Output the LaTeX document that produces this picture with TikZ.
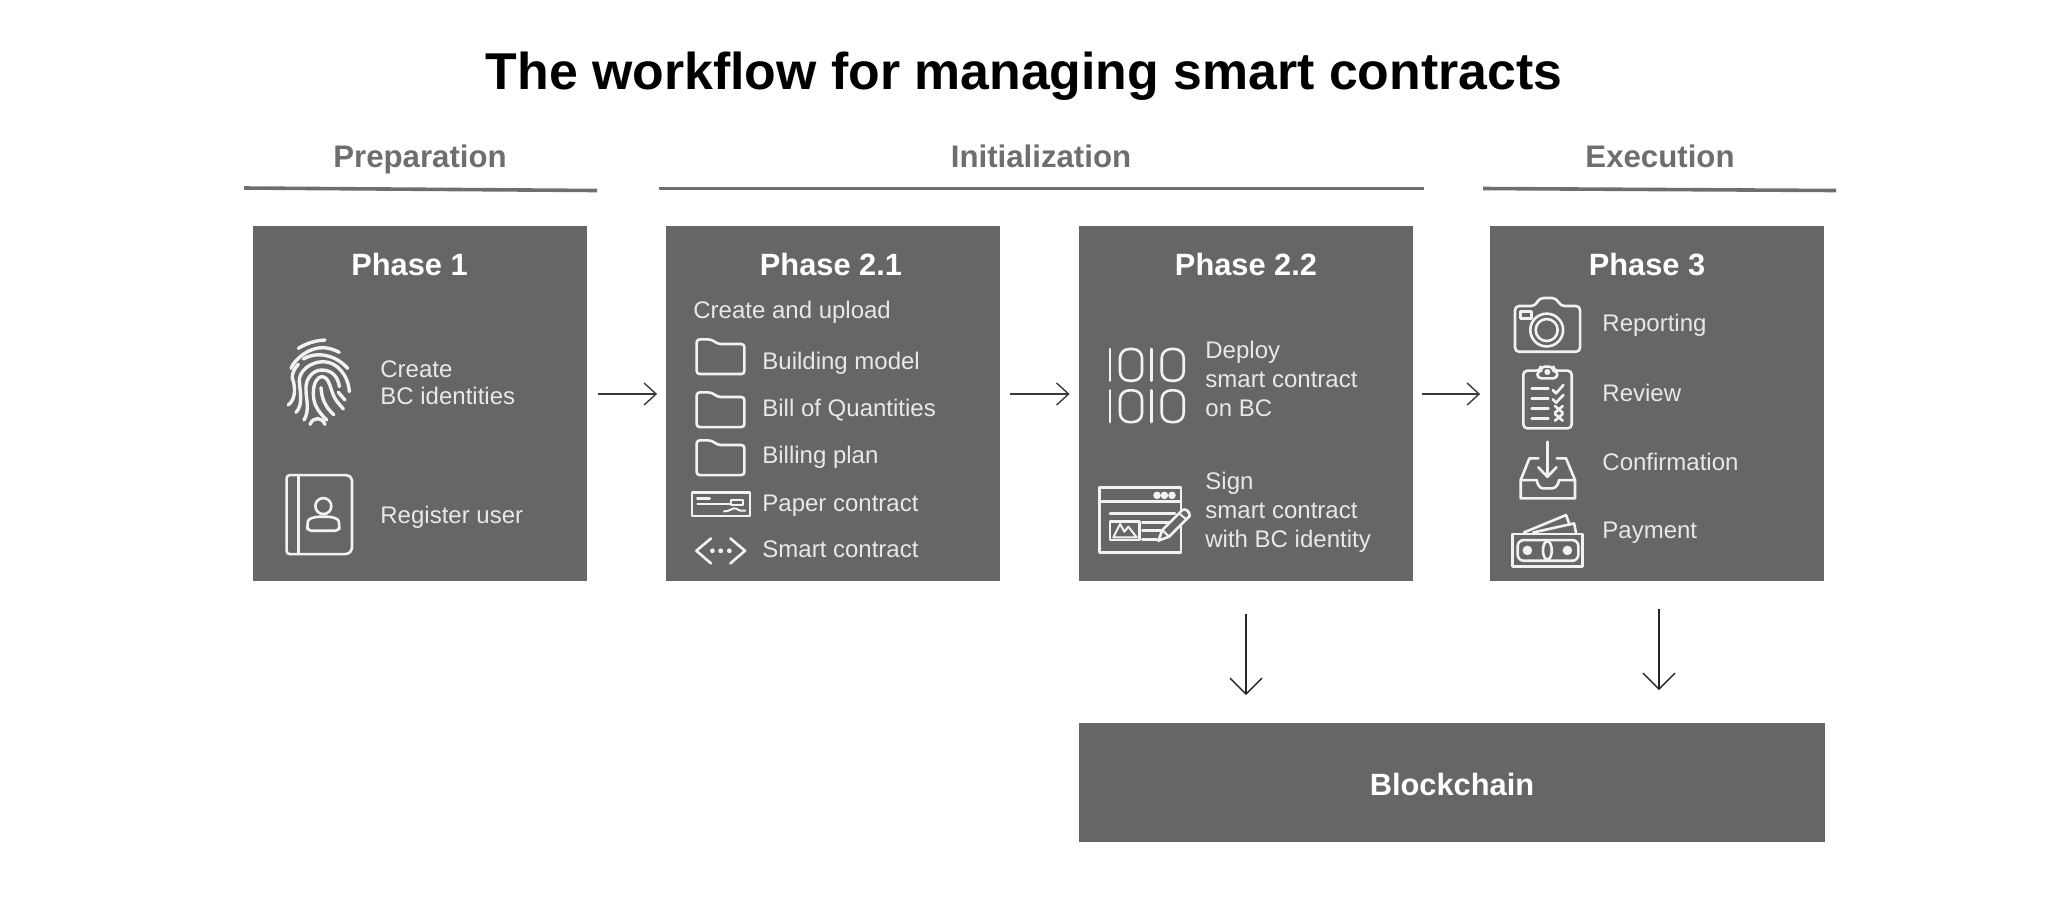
\documentclass[tikz,border=0pt]{standalone}
\usepackage{fontspec}
\setmainfont{Liberation Sans}
\usetikzlibrary{arrows.meta}
\definecolor{boxgray}{HTML}{666666}
\definecolor{headgray}{HTML}{6E6E6E}
\definecolor{bodytext}{HTML}{E8E8E8}
\definecolor{iconline}{HTML}{F2F2F2}
\definecolor{arrowgray}{HTML}{3A3A3A}
\tikzset{
  phasebox/.style={fill=boxgray,draw=none,inner sep=0pt,minimum width=167pt,minimum height=177.5pt},
  phasetitle/.style={text=white,font=\fontsize{15.4}{18}\selectfont\bfseries,anchor=base,inner sep=0pt},
  stagehead/.style={text=headgray,font=\fontsize{15.6}{18}\selectfont\bfseries,anchor=base,inner sep=0pt},
  stagerule/.style={draw=headgray,line width=1.8pt},
  bodylabel/.style={text=bodytext,font=\fontsize{12}{14}\selectfont,anchor=base west,inner sep=0pt,align=left},
  flowh/.style={draw=arrowgray,line width=0.7pt,-{Straight Barb[length=6pt,width=11pt,line width=0.7pt]}},
  flowv/.style={draw=black!85,line width=0.7pt,-{Straight Barb[length=8pt,width=16pt,line width=0.7pt]}},
  icon/.style={draw=iconline,line width=1.3pt,line join=round,line cap=round},
  thinicon/.style={draw=iconline,line width=1pt,line join=round,line cap=round},
  ridge/.style={draw=iconline,line width=1.7pt,line cap=round},
  folderi/.style={icon,rounded corners=1.5pt},
}
\begin{document}
\begin{tikzpicture}[x=0.5pt,y=-0.5pt]
\useasboundingbox (0,0) rectangle (2048,907);
% title
\node[anchor=base,inner sep=0pt,text=black,font=\fontsize{25.9}{30}\selectfont\bfseries] (title) at (1024,89) {The workflow for managing smart contracts};
% stage heads
\node[stagehead] (prep) at (420,167) {Preparation};
\node[stagehead] (init) at (1041,167) {Initialization};
\node[stagehead] (exec) at (1660,167) {Execution};
\draw[stagerule] (244,188) -- (597,190.5);
\draw[stagerule] (659,188.5) -- (1424,188.5);
\draw[stagerule] (1483,188.5) -- (1836,190.5);
% boxes
\node[phasebox] (p1) at (420,403.5) {};
\node[phasebox] (p21) at (833,403.5) {};
\node[phasebox] (p22) at (1246,403.5) {};
\node[phasebox] (p3) at (1656.5,403.5) {};
\node[phasebox,minimum width=373pt,minimum height=59.5pt] (bc) at (1452,782) {};
\node[anchor=base,inner sep=0pt,text=white,font=\fontsize{15.4}{18}\selectfont\bfseries] (bctext) at (1452,795) {Blockchain};
% connectors
\draw[flowh,shorten <=5.5pt,shorten >=4.25pt] ([yshift=4.75pt]p1.east) -- ([yshift=4.75pt]p21.west);
\draw[flowh,shorten <=5pt,shorten >=4.5pt] ([yshift=4.75pt]p21.east) -- ([yshift=4.75pt]p22.west);
\draw[flowh,shorten <=4.5pt,shorten >=4.5pt] ([yshift=4.75pt]p22.east) -- ([yshift=4.75pt]p3.west);
\draw[flowv,shorten <=16.5pt,shorten >=13.5pt] (p22.south) -- (p22.south |- bc.north);
\draw[flowv,shorten <=14pt,shorten >=16pt] ([xshift=1.25pt]p3.south) -- ([xshift=1.25pt]p3.south |- bc.north);
% phase titles
\node[phasetitle] (t1) at (409.5,275) {Phase 1};
\node[phasetitle] (t21) at (831,275) {Phase 2.1};
\node[phasetitle] (t22) at (1246,275) {Phase 2.2};
\node[phasetitle] (t3) at (1647,275) {Phase 3};
% phase 1 labels
\node[bodylabel,font=\fontsize{12}{13.5}\selectfont] (l11) at (380,404) {Create\\BC identities};
\node[bodylabel] (l12) at (380,523) {Register user};
% phase 2.1 labels
\node[bodylabel] (l20) at (693,318) {Create and upload};
\node[bodylabel] (l21) at (762,369) {Building model};
\node[bodylabel] (l22) at (762,416) {Bill of Quantities};
\node[bodylabel] (l23) at (762,463) {Billing plan};
\node[bodylabel] (l24) at (762,511) {Paper contract};
\node[bodylabel] (l25) at (762,557) {Smart contract};
% phase 2.2 labels
\node[bodylabel,font=\fontsize{12}{14.3}\selectfont] (l31) at (1205,416) {Deploy\\smart contract\\on BC};
\node[bodylabel,font=\fontsize{12}{14.3}\selectfont] (l32) at (1205,547) {Sign\\smart contract\\with BC identity};
% phase 3 labels
\node[bodylabel] (l41) at (1602,331) {Reporting};
\node[bodylabel] (l42) at (1602,401) {Review};
\node[bodylabel] (l43) at (1602,470) {Confirmation};
\node[bodylabel] (l44) at (1602,538) {Payment};
% fingerprint icon
\begin{scope}[shift={(280,335)},x=0.1667pt,y=-0.1667pt]
\draw[ridge] (55,40) .. controls (80,24) and (110,16) .. (135,15);
\draw[ridge] (33,100) .. controls (45,70) and (90,36) .. (130,38) .. controls (150,39) and (165,45) .. (178,52);
\draw[ridge] (70,72) .. controls (100,52) and (160,52) .. (203,100);
\draw[ridge] (25,210) .. controls (50,190) and (45,150) .. (37,130) .. controls (35,115) and (45,98) .. (55,88);
\draw[ridge] (48,232) .. controls (70,210) and (60,170) .. (58,140) .. controls (55,110) and (90,80) .. (130,80) .. controls (170,80) and (205,120) .. (208,170);
\draw[ridge] (72,255) .. controls (90,225) and (78,190) .. (78,165) .. controls (75,130) and (100,105) .. (125,105) .. controls (160,105) and (175,130) .. (178,155);
\draw[ridge] (140,255) .. controls (110,225) and (100,205) .. (100,175) .. controls (100,140) and (115,125) .. (125,125) .. controls (150,125) and (150,165) .. (165,190) .. controls (170,200) and (182,212) .. (190,222);
\draw[ridge] (162,240) .. controls (135,215) and (125,190) .. (123,158);
\draw[ridge] (175,172) -- (195,195);
\draw[ridge] (90,268) .. controls (100,245) and (125,245) .. (135,268);
\end{scope}
% book icon
\begin{scope}[shift={(240,210)},x=0.1667pt,y=-0.1667pt]
\draw[icon,rounded corners=1.5pt] (140,795) -- (325,795) -- (336,805) -- (336,1020) -- (325,1032) -- (140,1032) -- cycle;
\draw[icon] (175,795) -- (175,1032);
\draw[icon] (250,888) circle [radius=4pt];
\draw[icon,rounded corners=2pt] (202,962) -- (202,945) .. controls (205,925) and (225,920) .. (250,920) .. controls (275,920) and (295,925) .. (298,945) -- (298,962) -- cycle;
\end{scope}
% folders
\foreach \fy in {0,53,101}{
\begin{scope}[shift={(650,210+\fy)},x=0.1667pt,y=-0.1667pt]
\draw[folderi] (140,492) -- (140,388) -- (183,388) -- (205,402) -- (283,402) -- (283,492) -- cycle;
\end{scope}}
% paper contract icon
\begin{scope}[shift={(688,488)},x=0.1667pt,y=-0.1667pt]
\draw[icon] (12,14) rectangle (186,84);
\draw[icon] (28,32) -- (65,32);
\draw[thinicon] (28,47) -- (125,47);
\draw[thinicon] (130,35) rectangle (165,50);
\draw[thinicon] (108,70) .. controls (125,72) and (135,56) .. (145,62) .. controls (152,70) and (160,68) .. (172,68);
\end{scope}
% smart contract icon
\begin{scope}[shift={(650,210)},x=0.1667pt,y=-0.1667pt]
\draw[icon] (183,985) -- (139,1022) -- (183,1060);
\draw[icon] (241,985) -- (285,1022) -- (241,1060);
\fill[iconline] (187,1022) circle [radius=1.2pt];
\fill[iconline] (212,1022) circle [radius=1.2pt];
\fill[iconline] (238,1022) circle [radius=1.2pt];
\end{scope}
% binary icon
\begin{scope}[shift={(1060,210)},x=0.1667pt,y=-0.1667pt]
\foreach \by in {0,124}{
\draw[icon] (150,{417+\by}) -- (150,{512+\by});
\draw[icon,rounded corners=4.5pt] (180,{417+\by}) rectangle (246,{512+\by});
\draw[icon] (275,{417+\by}) -- (275,{512+\by});
\draw[icon,rounded corners=4.5pt] (305,{417+\by}) rectangle (371,{512+\by});
}
\end{scope}
% window and pencil icon
\begin{scope}[shift={(1095,480)},x=0.1667pt,y=-0.1667pt]
\draw[icon] (13,22) rectangle (258,218);
\draw[icon] (13,65) -- (258,65);
\foreach \dx in {186,208,231}{\fill[iconline] (\dx,46) circle [radius=1.9pt];}
\draw[icon] (45,100) -- (240,100);
\draw[icon] (45,125) rectangle (133,180);
\draw[thinicon] (55,172) -- (75,132) -- (88,155) -- (100,140) -- (125,172) -- cycle;
\draw[icon] (142,127) -- (222,127);
\draw[icon] (142,152) -- (200,152);
\draw[icon] (142,178) -- (185,178);
\filldraw[icon,fill=boxgray] (190,182) -- (202,150) -- (262,90) .. controls (272,84) and (285,95) .. (284,108) -- (222,170) -- cycle;
\draw[thinicon] (202,150) -- (222,170);
\draw[thinicon] (252,100) -- (274,118);
\end{scope}
% camera icon
\begin{scope}[shift={(1470,210)},x=0.1667pt,y=-0.1667pt]
\draw[icon,rounded corners=2pt] (135,288) -- (195,288) -- (208,264) -- (258,264) -- (272,288) -- (330,288) -- (330,425) -- (135,425) -- cycle;
\draw[icon] (152,305) rectangle (185,325);
\draw[icon] (230,360) circle [radius=8.2pt];
\draw[icon] (230,360) circle [radius=5.5pt];
\end{scope}
% clipboard icon
\begin{scope}[shift={(1510,360)},x=0.1667pt,y=-0.1667pt]
\draw[icon,rounded corners=2pt] (85,32) -- (40,32) -- (40,205) -- (185,205) -- (185,32) -- (140,32);
\draw[icon,rounded corners=2pt] (82,55) -- (82,32) -- (92,32) -- (92,20) -- (130,20) -- (130,32) -- (142,32) -- (142,55) -- cycle;
\fill[iconline] (112,36) circle [radius=1.5pt];
\foreach \ly in {85,115,145,175}{\draw[icon] (65,\ly) -- (115,\ly);}
\draw[icon] (128,90) -- (138,100) -- (160,75);
\draw[icon] (128,118) -- (138,128) -- (160,105);
\draw[icon] (135,138) -- (158,158); \draw[icon] (158,138) -- (135,158);
\draw[icon] (135,162) -- (158,182); \draw[icon] (158,162) -- (135,182);
\end{scope}
% inbox icon
\begin{scope}[shift={(1470,210)},x=0.1667pt,y=-0.1667pt]
\draw[icon] (232,695) -- (232,800);
\draw[icon] (205,772) -- (232,800) -- (259,772);
\draw[icon] (205,745) -- (178,745) -- (152,810) -- (152,865) -- (315,865) -- (315,810) -- (288,745) -- (260,745);
\draw[icon] (152,810) -- (200,810) .. controls (205,835) and (215,835) .. (225,835) -- (240,835) .. controls (250,835) and (262,835) .. (267,810) -- (315,810);
\end{scope}
% money icon
\begin{scope}[shift={(1470,210)},x=0.1667pt,y=-0.1667pt]
\draw[icon] (127,972) rectangle (338,1070);
\draw[icon,rounded corners=3pt] (143,990) rectangle (325,1052);
\fill[iconline] (172,1021) circle [radius=2.4pt];
\fill[iconline] (292,1021) circle [radius=2.4pt];
\draw[icon] (232,1021) ellipse [x radius=2.2pt,y radius=4.6pt];
\draw[icon] (162,967) -- (288,915) -- (298,942);
\draw[icon] (190,967) -- (312,940) -- (318,968);
\end{scope}
\end{tikzpicture}
\end{document}
